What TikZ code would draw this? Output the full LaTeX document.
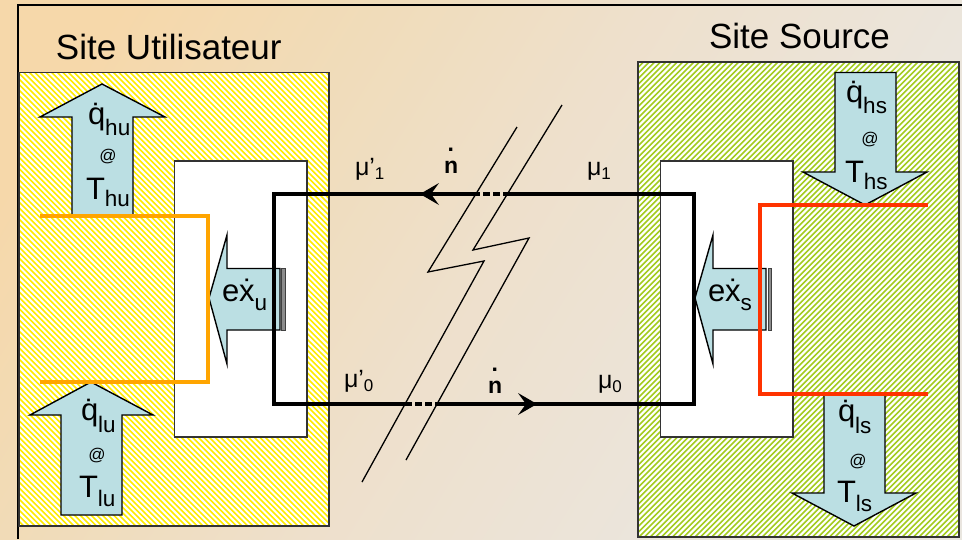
\documentclass[tikz,border=0pt]{standalone}
\usepackage{fontspec}
\setmainfont{Liberation Sans}
\usetikzlibrary{arrows.meta}
\definecolor{arrowfill}{HTML}{BBDFE3}
\definecolor{ylw}{HTML}{FFEC00}
\definecolor{grn}{HTML}{A4CC20}
\definecolor{orangeline}{HTML}{FFA500}
\definecolor{redline}{HTML}{FF3300}
\definecolor{bgA}{HTML}{F6D8AA}
\definecolor{bgB}{HTML}{F0DCBA}
\definecolor{bgC}{HTML}{EEE0CC}
\definecolor{bgD}{HTML}{EBE5DC}
\definecolor{bgE}{HTML}{E8E6E2}
\pgfdeclarehorizontalshading{bggrad}{100bp}{
  color(0bp)=(bgA); color(22bp)=(bgA); color(36bp)=(bgB);
  color(50bp)=(bgC); color(68bp)=(bgD); color(100bp)=(bgE)}
\newcommand{\fs}[1]{\fontsize{#1}{#1}\selectfont}
\newcommand{\withsub}[4][22.5]{{\fs{31}#3}\raisebox{-#2pt}{\fs{#1}#4}}
\newcommand{\hidot}[2]{\rlap{\raisebox{#1pt}{\kern 3.7pt\fs{23}\textbf{.}}}#2}
\tikzset{
  x=1pt,y=-1pt,
  frameline/.style={draw=black,line width=2pt},
  panelbox/.style={draw=black!80,line width=1.4pt},
  whitebox/.style={draw=black!80,fill=white,line width=1.3pt},
  flow/.style={draw=black,fill=arrowfill,line width=1.4pt,line join=miter},
  cycle line/.style={draw=black,line width=4pt,line join=miter},
  bolt/.style={draw=black,line width=1.3pt},
  hatchline/.style={line width=1.6pt},
  txt/.style={anchor=base west,inner sep=0pt,outer sep=0pt,text=black},
  ctxt/.style={anchor=center,inner sep=0pt,outer sep=0pt,text=black},
}
\begin{document}
\begin{tikzpicture}
\useasboundingbox (0,0) rectangle (962,539);
\shade[shading=bggrad,shading angle=-32] (0,0) rectangle (962,539);
\draw[frameline] (18,539) -- (18,5) -- (962,5);

% panels
\fill[white] (19,72.5) rectangle (329,526);
\begin{scope}
\clip (19,72.5) rectangle (329,526);
\foreach \k in {0,...,140} \draw[hatchline,ylw] ({19-460+5.6*\k},72.5) -- ({19-460+5.6*\k+460},532.5);
\end{scope}
\draw[panelbox] (19,72.5) rectangle (329,526);
\fill[white] (638,62) rectangle (959,537);
\begin{scope}
\clip (638,62) rectangle (959,537);
\foreach \k in {0,...,145} \draw[hatchline,grn] ({638+5.6*\k},62) -- ({638+5.6*\k-480},542);
\end{scope}
\draw[panelbox] (638,62) rectangle (959,537);
\draw[whitebox] (174.5,161) rectangle (307,437);
\draw[whitebox] (660.5,161) rectangle (793,437);

\node[txt,font=\fs{35}] (siteU) at (56,59) {Site Utilisateur};
\node[txt,font=\fs{35}] (siteS) at (709,48) {Site Source};

% heat arrows
\draw[flow] (102,84) -- (165,117) -- (133,117) -- (133,216) -- (72,216) -- (72,117) -- (40,117) -- cycle;
\draw[flow] (91,382) -- (153,415) -- (122,415) -- (122,515) -- (61,515) -- (61,415) -- (30,415) -- cycle;
\draw[flow] (835,72.5) -- (896,72.5) -- (896,172) -- (927,172) -- (865,205) -- (803,172) -- (835,172) -- cycle;
\draw[flow] (824,394) -- (885,394) -- (885,493) -- (916,493) -- (854,526) -- (792,493) -- (824,493) -- cycle;

% exergy arrows with plates
\draw[flow] (209,298) -- (227,235) -- (227,268.5) -- (280,268.5) -- (280,330) -- (227,330) -- (227,364) -- cycle;
\draw[draw=black!75,fill=black!45,line width=1pt] (281.5,268.5) rectangle (285,330);
\draw[flow] (695,298) -- (713,235) -- (713,268.5) -- (766,268.5) -- (766,330) -- (713,330) -- (713,364) -- cycle;
\draw[draw=black!75,fill=black!45,line width=1pt] (768,268.5) rectangle (771,330);

% orange and red lines
\draw[draw=orangeline,line width=3.5pt] (40,216) -- (208,216) -- (208,382) -- (40,382);
\draw[draw=redline,line width=3.5pt] (928,205) -- (760,205) -- (760,394) -- (928,394);

% cycle
\coordinate (tl) at (274,194);
\coordinate (tr) at (694,194);
\coordinate (bl) at (274,404);
\coordinate (br) at (694,404);
\coordinate (ta) at (473,194);
\coordinate (tb) at (507,194);
\coordinate (ba) at (405,404);
\coordinate (bb) at (438,404);
\draw[cycle line] (ta) -- (tl) -- (bl) -- (ba);
\draw[cycle line] (tb) -- (tr) -- (br) -- (bb);
\draw[cycle line,dash pattern=on 7pt off 3pt] (ta) -- (tb);
\draw[cycle line,dash pattern=on 7pt off 3pt] (ba) -- (bb);
\fill[black] (420,194) -- (439,183) -- (431,194) -- (439,205) -- cycle;
\fill[black] (537,404) -- (518,393) -- (526,404) -- (518,415) -- cycle;

% break bolt
\draw[bolt] (517,127) -- (428,272) -- (484,261) -- (362,482);
\draw[bolt] (562,105) -- (473,250) -- (529,238) -- (406,460);

% heat labels
\node[txt] (qhu) at (88,124) {\withsub{11}{\.{q}}{hu}};
\node[ctxt,font=\fs{17}] (ahu) at (108,157) {@};
\node[txt] (thu) at (86,199) {\withsub{7}{T}{hu}};

\node[txt] (qlu) at (81,420) {\withsub{12}{\.{q}}{lu}};
\node[ctxt,font=\fs{17}] (alu) at (97,456) {@};
\node[txt] (tlu) at (79,497) {\withsub{9}{T}{lu}};

\node[txt] (qhs) at (846,102) {\withsub{11}{\.{q}}{hs}};
\node[ctxt,font=\fs{17}] (ahs) at (870,140) {@};
\node[txt] (ths) at (845,182) {\withsub{7}{T}{hs}};

\node[txt] (qls) at (838,421) {\withsub{12}{\.{q}}{ls}};
\node[ctxt,font=\fs{17}] (als) at (858,462) {@};
\node[txt] (tls) at (837,502) {\withsub{9}{T}{ls}};

\node[txt] (exu) at (222,301) {\withsub{9}{e\.{x}}{u}};
\node[txt] (exs) at (708,301) {\withsub{9}{e\.{x}}{s}};

% cycle labels
\newcommand{\mulab}[2]{{\fs{25}μ#1}\raisebox{-4pt}{\fs{17}#2}}
\node[txt] (m1p) at (355,175) {\mulab{’}{1}};
\node[txt] (m1) at (587,175) {\mulab{}{1}};
\node[txt] (m0p) at (344,387) {\mulab{’}{0}};
\node[txt] (m0) at (598,388) {\mulab{}{0}};
\node[txt,font=\fs{23}] (n1) at (444,173) {\hidot{22}{\textbf{n}}};
\node[txt,font=\fs{23}] (n0) at (488,393) {\hidot{22}{\textbf{n}}};
\end{tikzpicture}
\end{document}
